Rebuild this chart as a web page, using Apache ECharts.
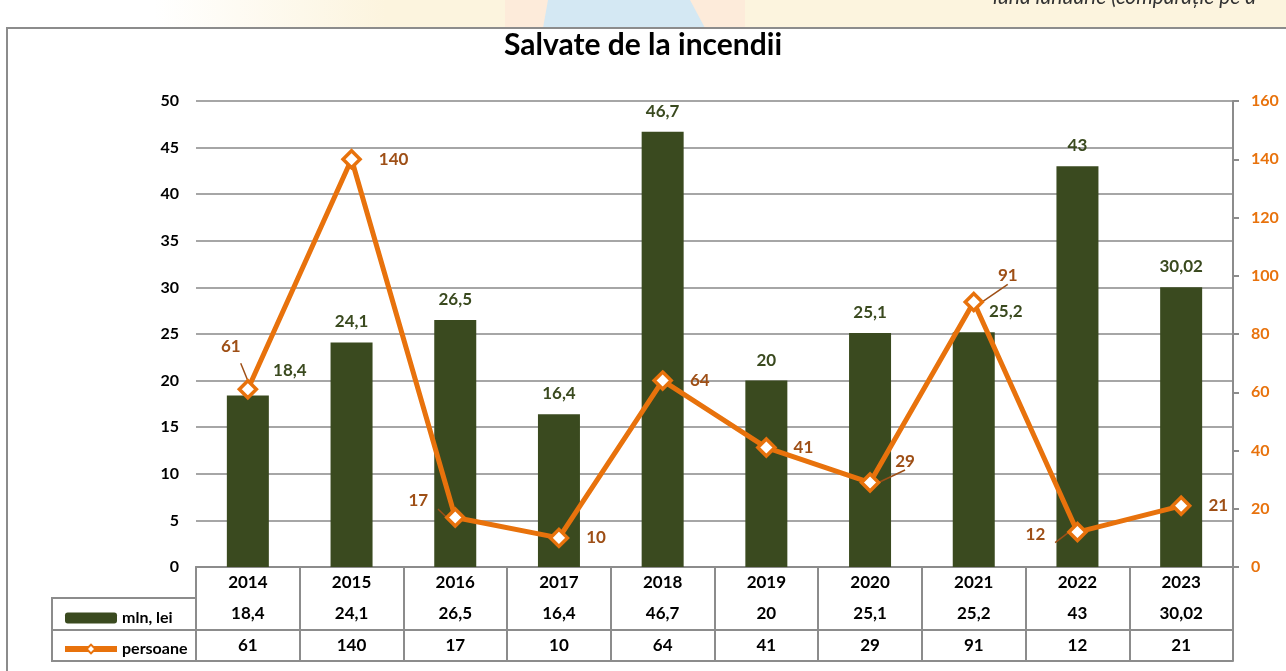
<!doctype html>
<html>
<head>
<meta charset="utf-8">
<title>Salvate de la incendii</title>
<script src="https://cdn.jsdelivr.net/npm/echarts@6/dist/echarts.min.js"></script>
<style>
html, body { margin: 0; padding: 0; background: #fff; }
#main { width: 1286px; height: 671px; }
</style>
</head>
<body>
<div id="main"></div>
<script>
// data
var years = ['2014', '2015', '2016', '2017', '2018', '2019', '2020', '2021', '2022', '2023'];
var mlnLei = [18.4, 24.1, 26.5, 16.4, 46.7, 20, 25.1, 25.2, 43, 30.02];
var persoane = [61, 140, 17, 10, 64, 41, 29, 91, 12, 21];
var seriesNames = ['mln, lei', 'persoane'];

// label nudges (style only)
var barLabelShift = { 0: [42, -4], 7: [32, 0] };
var lineLabelShift = { 0: [-17, -43], 2: [-37, -17], 6: [35, -21], 7: [34, -26], 8: [-42, 2] };

var green = '#3a4a1f', orange = '#e8720c', brown = '#9e4f16', gridGray = '#8c8c8c';
var font = 'Lato, "Open Sans", sans-serif';

function fmt(v) { return String(v).replace('.', ','); }

var chart = echarts.init(document.getElementById('main'));

var barData = mlnLei.map(function (v, i) {
    if (barLabelShift[i]) return { value: v, label: { offset: barLabelShift[i] } };
    return v;
});
var lineData = persoane.map(function (v, i) {
    if (lineLabelShift[i]) {
        return {
            value: v,
            label: { position: 'inside', offset: lineLabelShift[i] },
            labelLine: { show: true, lineStyle: { color: brown, width: 1.5 } }
        };
    }
    return v;
});

function tableAxis(offset, values, showTick) {
    return {
        type: 'category',
        data: years,
        position: 'bottom',
        offset: offset,
        axisLine: { show: true, lineStyle: { color: gridGray, width: 2 } },
        axisTick: { show: showTick, interval: 0, length: 94, lineStyle: { color: gridGray, width: 2 } },
        axisLabel: {
            show: values !== null,
            interval: 0,
            margin: 7,
            color: '#000',
            fontWeight: 'bold',
            fontSize: 17,
            fontFamily: font,
            formatter: function (val, idx) { return values ? fmt(values[idx]) : val; }
        },
        splitLine: { show: false }
    };
}

chart.setOption({
    backgroundColor: '#fff',
    animation: false,
    title: {
        text: 'Salvate de la incendii',
        left: 'center',
        top: 25,
        textStyle: { fontFamily: font, fontWeight: 'bold', fontSize: 30, color: '#000' }
    },
    legend: {
        data: [
            { name: seriesNames[0] },
            { name: seriesNames[1], lineStyle: { width: 6 } }
        ],
        orient: 'vertical',
        left: 57,
        top: 605,
        itemWidth: 52,
        itemHeight: 11,
        itemGap: 15,
        textStyle: { fontFamily: font, fontWeight: 'bold', fontSize: 16, color: '#000' }
    },
    grid: { left: 196, right: 53, top: 101, bottom: 104 },
    xAxis: [
        tableAxis(0, years, true),
        tableAxis(31, mlnLei, false),
        tableAxis(63, persoane, false),
        tableAxis(94, null, false)
    ],
    yAxis: [{
        type: 'value',
        min: 0, max: 50, interval: 5,
        axisLine: { show: false },
        axisTick: { show: false },
        axisLabel: { margin: 17, color: '#000', fontWeight: 'bold', fontSize: 16, fontFamily: font },
        splitLine: { lineStyle: { color: '#a6a6a6', width: 2 } }
    }, {
        type: 'value',
        position: 'right',
        min: 0, max: 160, interval: 20,
        axisLine: { show: true, lineStyle: { color: gridGray, width: 2 } },
        axisTick: { show: true, length: 6, lineStyle: { color: gridGray, width: 2 } },
        axisLabel: { margin: 18, color: orange, fontWeight: 'bold', fontSize: 16, fontFamily: font },
        splitLine: { show: false }
    }],
    series: [{
        name: seriesNames[0],
        type: 'bar',
        data: barData,
        barWidth: 42,
        itemStyle: { color: green },
        label: {
            show: true,
            position: 'top',
            distance: 12,
            color: green,
            fontWeight: 'bold',
            fontSize: 17,
            fontFamily: font,
            formatter: function (p) { return fmt(p.value); }
        },
        z: 2
    }, {
        name: seriesNames[1],
        type: 'line',
        yAxisIndex: 1,
        data: lineData,
        symbol: 'diamond',
        symbolSize: 17,
        lineStyle: { color: orange, width: 5 },
        itemStyle: { color: '#fff', borderColor: orange, borderWidth: 3.5 },
        label: {
            show: true,
            position: 'right',
            distance: 17,
            color: brown,
            fontWeight: 'bold',
            fontSize: 17,
            fontFamily: font
        },
        z: 3
    }],
    graphic: [
        // top strip of the slide background
        {
            type: 'rect', shape: { x: 0, y: 0, width: 1286, height: 28 }, z: -10,
            style: {
                fill: new echarts.graphic.LinearGradient(0, 0, 1, 0, [
                    { offset: 0, color: '#ffffff' },
                    { offset: 0.12, color: '#ffffff' },
                    { offset: 0.3, color: '#fcf4de' },
                    { offset: 1, color: '#fcf4de' }
                ])
            }
        },
        { type: 'rect', shape: { x: 505, y: 0, width: 240, height: 28 }, style: { fill: '#fdebda' }, z: -9 },
        { type: 'polygon', shape: { points: [[548, 0], [690, 0], [705, 28], [543, 28]] }, style: { fill: '#d4e8f3' }, z: -8 },
        {
            type: 'text', left: 993, top: -13, z: -7,
            style: { text: 'luna ianuarie (comparație pe a', fill: '#333', font: 'italic 21px ' + font }
        },
        // chart frame
        { type: 'rect', shape: { x: 7, y: 28, width: 1300, height: 700 }, style: { fill: '#fff', stroke: '#8c8c8c', lineWidth: 2 }, z: -5 },
        // left column of the data table
        { type: 'rect', shape: { x: 52, y: 598, width: 144, height: 63 }, style: { fill: 'none', stroke: gridGray, lineWidth: 2 }, z: 1 },
        { type: 'line', shape: { x1: 52, y1: 630, x2: 196, y2: 630 }, style: { stroke: gridGray, lineWidth: 2 }, z: 1 }
    ]
});

window.addEventListener('resize', function () {
    chart.resize();
});
</script>
</body>
</html>
